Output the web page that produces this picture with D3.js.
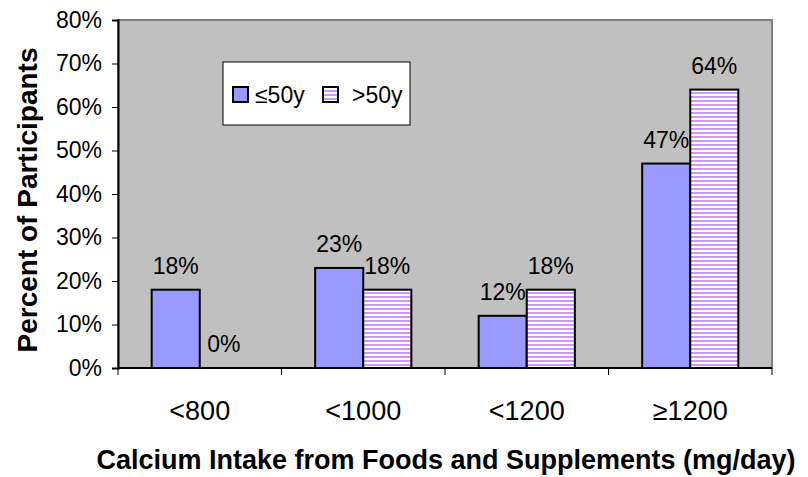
<!DOCTYPE html>
<html>
<head>
<meta charset="utf-8">
<script src="https://cdn.jsdelivr.net/npm/d3@7"></script>
<style>
  body { margin: 0; background: #fff; }
  svg { font-family: "Liberation Sans", Arial, sans-serif; }
</style>
</head>
<body>
<svg width="808" height="477"></svg>
<script>
var categories = ["<800", "<1000", "<1200", "\u22651200"];
var seriesNames = ["\u226450y", ">50y"];
var young = [18, 23, 12, 47];
var old = [0, 18, 18, 64];
var yTicks = [0, 10, 20, 30, 40, 50, 60, 70, 80];

var svg = d3.select("svg");
var plot = {left: 118, top: 20, right: 772, bottom: 368};

var defs = svg.append("defs");
var pat = defs.append("pattern")
    .attr("id", "stripes")
    .attr("patternUnits", "userSpaceOnUse")
    .attr("width", 8).attr("height", 4);
pat.append("rect").attr("width", 8).attr("height", 4).attr("fill", "#ffffff");
pat.append("rect").attr("width", 8).attr("height", 2).attr("fill", "#cc99ff");

var fills = ["#9999ff", "url(#stripes)"];

var x0 = d3.scaleBand()
    .domain(categories)
    .range([plot.left, plot.right])
    .padding(0);

var x1 = d3.scaleBand()
    .domain(seriesNames)
    .range([0, x0.bandwidth()])
    .paddingInner(0)
    .paddingOuter(0.70);

var y = d3.scaleLinear()
    .domain([0, 80])
    .range([plot.bottom, plot.top]);

// plot background
svg.append("rect")
    .attr("x", plot.left).attr("y", plot.top)
    .attr("width", plot.right - plot.left)
    .attr("height", plot.bottom - plot.top)
    .attr("fill", "#c0c0c0")
    .attr("stroke", "#808080")
    .attr("stroke-width", 2);

// y axis
var yAxis = d3.axisLeft(y)
    .tickValues(yTicks)
    .tickSize(6)
    .tickPadding(10)
    .tickFormat(function(d) { return d + "%"; });

var gy = svg.append("g")
    .attr("transform", "translate(" + plot.left + ",0)")
    .call(yAxis);
gy.select(".domain").attr("stroke", "#000").attr("stroke-width", 2);
gy.selectAll(".tick line").attr("stroke", "#000");
gy.selectAll("text").attr("font-size", 23).attr("fill", "#000")
    .attr("font-family", "Liberation Sans, Arial, sans-serif");

// x axis (ticks at category boundaries)
var bounds = categories.map(function(c) { return x0(c); }).concat([plot.right]);
var gx = svg.append("g");
gx.append("line")
    .attr("x1", plot.left).attr("x2", plot.right)
    .attr("y1", plot.bottom).attr("y2", plot.bottom)
    .attr("stroke", "#000").attr("stroke-width", 2);
gx.selectAll(".bt")
    .data(bounds)
    .enter().append("line")
    .attr("x1", function(d) { return d; })
    .attr("x2", function(d) { return d; })
    .attr("y1", plot.bottom).attr("y2", plot.bottom + 7)
    .attr("stroke", "#000");
gx.selectAll(".cl")
    .data(categories)
    .enter().append("text")
    .attr("x", function(d) { return x0(d) + x0.bandwidth() / 2; })
    .attr("y", 420)
    .attr("text-anchor", "middle")
    .attr("font-size", 27)
    .text(function(d) { return d; });

// bars
var rows = categories.map(function(c, i) {
    return {cat: c, vals: [young[i], old[i]]};
});

var groups = svg.append("g").selectAll("g")
    .data(rows)
    .enter().append("g")
    .attr("transform", function(d) { return "translate(" + x0(d.cat) + ",0)"; });

groups.selectAll("rect")
    .data(function(d) { return d.vals.map(function(v, j) { return {s: seriesNames[j], v: v, j: j}; }); })
    .enter().append("rect")
    .filter(function(d) { return d.v > 0; })
    .attr("x", function(d) { return x1(d.s); })
    .attr("y", function(d) { return y(d.v); })
    .attr("width", x1.bandwidth())
    .attr("height", function(d) { return y(0) - y(d.v); })
    .attr("fill", function(d) { return fills[d.j]; })
    .attr("stroke", "#000")
    .attr("stroke-width", 2);

groups.selectAll("text")
    .data(function(d) { return d.vals.map(function(v, j) { return {s: seriesNames[j], v: v, j: j}; }); })
    .enter().append("text")
    .attr("x", function(d) { return x1(d.s) + x1.bandwidth() / 2; })
    .attr("y", function(d) { return y(d.v) - 16; })
    .attr("text-anchor", "middle")
    .attr("font-size", 23)
    .text(function(d) { return d.v + "%"; });

// legend
var leg = svg.append("g").attr("transform", "translate(223,62)");
leg.append("rect")
    .attr("width", 187).attr("height", 63)
    .attr("fill", "#fff").attr("stroke", "#000").attr("stroke-width", 1);
var legX = [10, 100];
var legTx = [32, 129];
seriesNames.forEach(function(s, i) {
    leg.append("rect")
        .attr("x", legX[i]).attr("y", 25)
        .attr("width", 15).attr("height", 15)
        .attr("fill", fills[i])
        .attr("stroke", "#000").attr("stroke-width", 2);
    leg.append("text")
        .attr("x", legTx[i]).attr("y", 41)
        .attr("font-size", 23)
        .text(s);
});

// axis titles
svg.append("text")
    .attr("transform", "translate(37,200) rotate(-90)")
    .attr("text-anchor", "middle")
    .attr("font-size", 28)
    .attr("font-weight", "bold")
    .text("Percent of Participants");

svg.append("text")
    .attr("x", 446).attr("y", 469)
    .attr("text-anchor", "middle")
    .attr("font-size", 27)
    .attr("font-weight", "bold")
    .text("Calcium Intake from Foods and Supplements (mg/day)");
</script>
</body>
</html>
